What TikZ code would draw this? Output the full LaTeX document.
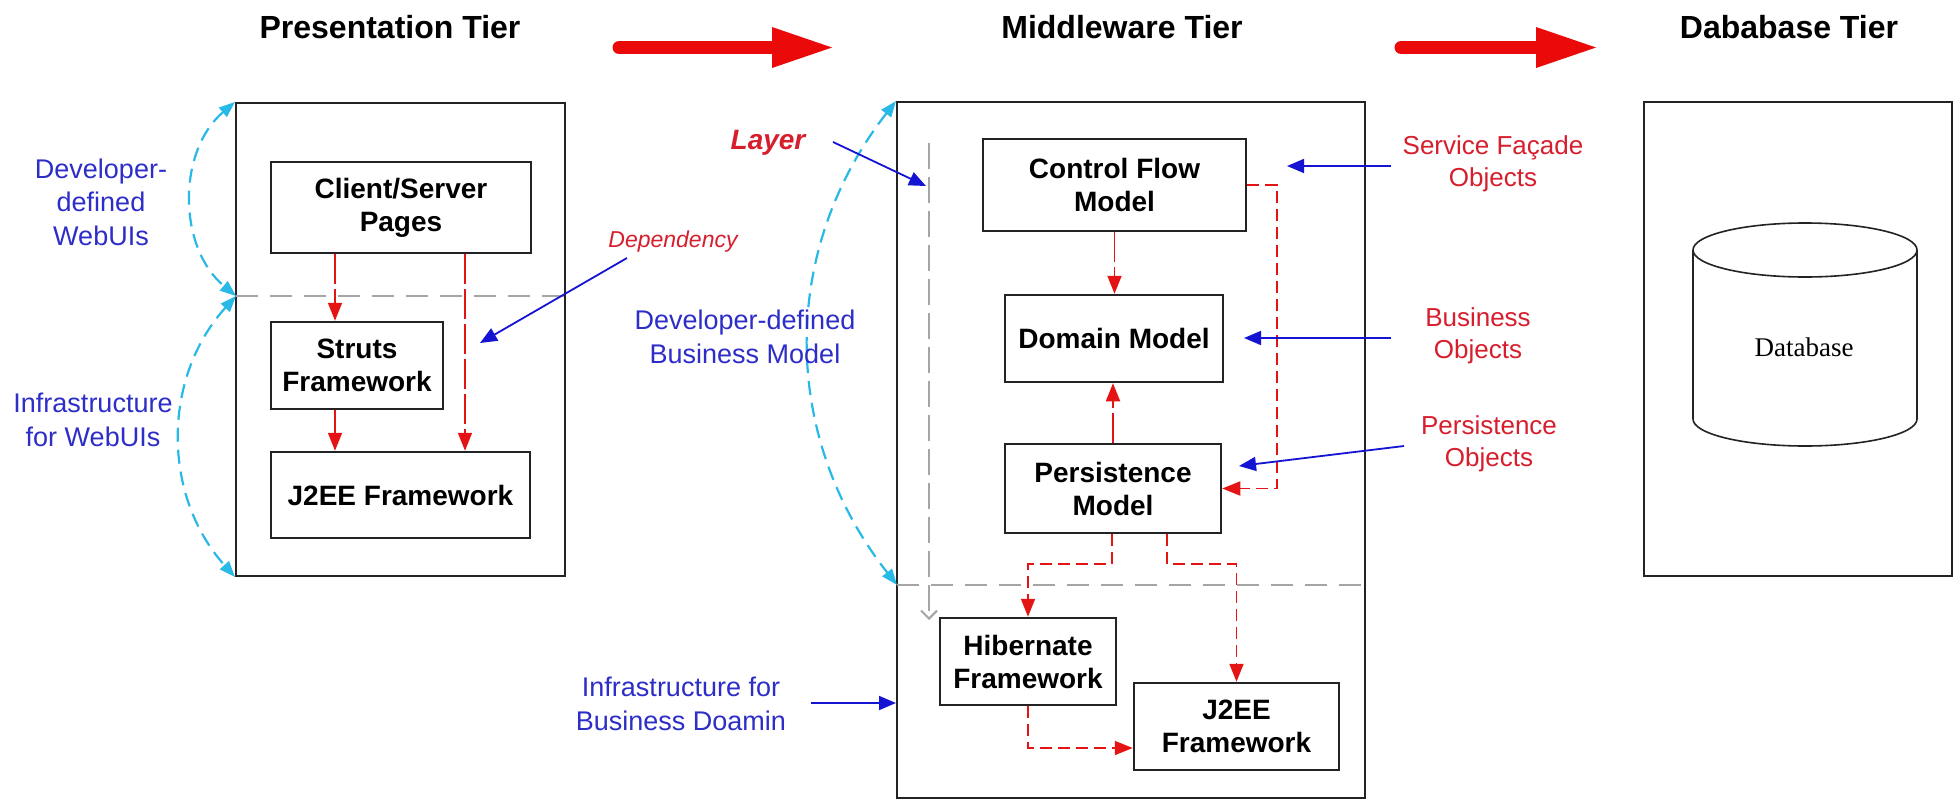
\documentclass[tikz,border=0pt]{standalone}
\usepackage{fontspec}
\setmainfont{Liberation Sans}
\newfontfamily\dbserif{Liberation Serif}
\usetikzlibrary{arrows.meta,calc}
\definecolor{conred}{RGB}{228,20,20}
\definecolor{lblred}{RGB}{215,30,45}
\definecolor{arrblue}{RGB}{20,20,210}
\definecolor{lblblue}{RGB}{45,45,200}
\definecolor{cyanc}{RGB}{40,185,230}
\definecolor{graydash}{RGB}{165,165,165}
\definecolor{boxcol}{RGB}{35,35,35}
\definecolor{bigred}{RGB}{235,10,10}
\begin{document}
\begin{tikzpicture}[x=1pt,y=-1pt,
  box/.style={draw=boxcol, line width=2.5pt, fill=white, inner sep=0pt, align=center,
    font=\fontsize{28}{33}\selectfont\bfseries},
  container/.style={draw=boxcol, line width=2pt, inner sep=0pt},
  title/.style={font=\fontsize{32}{36}\selectfont\bfseries, inner sep=0pt},
  bluelbl/.style={text=lblblue, align=center, font=\fontsize{27}{33.5}\selectfont},
  redlbl/.style={text=lblred, align=center, font=\fontsize{26}{32}\selectfont},
  reddash/.style={draw=conred, line width=1.8pt, dash pattern=on 30pt off 5pt,
    -{Triangle[length=18pt,width=14pt]}},
  redshort/.style={draw=conred, line width=1.8pt, dash pattern=on 12pt off 6pt,
    -{Triangle[length=18pt,width=14pt]}},
  blarrow/.style={draw=arrblue, line width=1.8pt, -{Triangle[length=17pt,width=14pt]}},
  cyarrow/.style={draw=cyanc, line width=2.2pt, dash pattern=on 14pt off 8pt,
    {Triangle[length=16pt,width=12pt]}-{Triangle[length=16pt,width=12pt]}},
  graydashed/.style={draw=graydash, line width=2.6pt, dash pattern=on 22pt off 12pt},
]
\useasboundingbox[fill=white] (0,0) rectangle (1960,801);

% titles
\node[title] (t1) at (390,27) {Presentation Tier};
\node[title] (t2) at (1122,27) {Middleware Tier};
\node[title] (t3) at (1789,27) {Dababase Tier};

% big red arrows
\draw[bigred, line width=13pt, line cap=round] (619,47.5) -- (776,47.5);
\fill[bigred] (772,27) -- (832,47.5) -- (772,68) -- cycle;
\draw[bigred, line width=13pt, line cap=round] (1401,47.5) -- (1540,47.5);
\fill[bigred] (1536,27) -- (1596,47.5) -- (1536,68) -- cycle;

% containers
\node[container, minimum width=329pt, minimum height=473pt] (pres) at (400.5,339.5) {};
\node[container, minimum width=468pt, minimum height=696pt] (mid) at (1131,450) {};
\node[container, minimum width=308pt, minimum height=474pt] (db) at (1798,339) {};

% layer split lines
\coordinate (psplit) at (236,296);
\coordinate (msplit) at (897,585);
\draw[graydashed] (psplit) -- (psplit -| pres.east);
\draw[graydashed] (msplit) -- (msplit -| mid.east);
\coordinate (lyt) at (929,143);
\coordinate (lyb) at (929,620);
\draw[draw=graydash, line width=2pt, dash pattern=on 26pt off 8pt,
  -{Straight Barb[length=8pt,width=16pt]}] (lyt) -- (lyb);

% presentation boxes
\node[box, minimum width=260pt, minimum height=91pt] (cs) at (401,207.5) {Client/Server\\Pages};
\node[box, minimum width=172pt, minimum height=87pt] (struts) at (357,365.5) {Struts\\Framework};
\node[box, minimum width=259pt, minimum height=86pt] (jp) at (400.5,495) {J2EE Framework};

% middleware boxes
\node[box, minimum width=263pt, minimum height=92pt] (cfm) at (1114.5,185) {Control Flow\\Model};
\node[box, minimum width=218pt, minimum height=87pt] (dom) at (1114,338.5) {Domain Model};
\node[box, minimum width=216pt, minimum height=89pt] (pers) at (1113,488.5) {Persistence\\Model};
\node[box, minimum width=176pt, minimum height=87pt] (hib) at (1028,661.5) {Hibernate\\Framework};
\node[box, minimum width=205pt, minimum height=87pt] (jm) at (1236.5,726.5) {J2EE\\Framework};

% database
\draw[boxcol, line width=1.6pt, fill=white] (1805,250) ellipse [x radius=112, y radius=27];
\draw[boxcol, line width=1.6pt] (1693,250) -- (1693,419);
\draw[boxcol, line width=1.6pt] (1917,250) -- (1917,419);
\begin{scope}
  \clip (1680,419) rectangle (1930,460);
  \draw[boxcol, line width=1.6pt] (1805,419) ellipse [x radius=112, y radius=27];
\end{scope}
\node[font=\dbserif\fontsize{27}{30}\selectfont] (dbt) at (1804,347) {Database};

% presentation dependencies
\coordinate (xa) at (335,0);
\coordinate (xb) at (465,0);
\draw[reddash] (cs.south -| xa) -- (struts.north -| xa);
\draw[reddash] (struts.south -| xa) -- (jp.north -| xa);
\draw[reddash] (cs.south -| xb) -- (jp.north -| xb);

% middleware dependencies
\coordinate (xr) at (1277,0);
\draw[reddash] (cfm.south) -- (cfm.south |- dom.north);
\draw[reddash] (pers.north) -- (pers.north |- dom.south);
\draw[redshort] (cfm.east) -- (cfm.east -| xr) -- (pers.east -| xr) -- (pers.east);
\draw[redshort] ([xshift=-1pt]pers.south) -- ++(0,30) -| (hib.north);
\draw[redshort] ([xshift=54pt]pers.south) -- ++(0,30) -| (jm.north);
\draw[redshort] (hib.south) |- ([yshift=-21.5pt]jm.west);

% cyan scope arrows
\draw[cyarrow] (pres.north west) to[bend right=50] (psplit);
\draw[cyarrow] (psplit) to[bend right=42] (pres.south west);
\draw[cyarrow] (mid.north west) to[bend right=38] (msplit);

% labels
\node[bluelbl] (ldw) at (101,202) {Developer-\\defined\\WebUIs};
\node[bluelbl] (liw) at (93,420) {Infrastructure\\for WebUIs};
\node[text=lblred, font=\fontsize{23}{27}\selectfont\itshape] (ldep) at (673,242) {Dependency};
\node[text=lblred, font=\fontsize{28}{32}\selectfont\bfseries\itshape] (llay) at (768,143) {Layer};
\node[bluelbl] (ldbm) at (745,337) {Developer-defined\\Business Model};
\node[bluelbl] (libd) at (681,704) {Infrastructure for\\Business Doamin};
\node[redlbl] (lsfo) at (1493,164) {Service Façade\\Objects};
\node[redlbl] (lbo) at (1478,336) {Business\\Objects};
\node[redlbl] (lpo) at (1489,444) {Persistence\\Objects};

% blue pointer arrows
\coordinate (dep0) at (627,258);
\coordinate (dep1) at (480,343);
\draw[blarrow] (dep0) -- (dep1);
\coordinate (lay0) at (833,142);
\coordinate (lay1) at (926,186);
\draw[blarrow] (lay0) -- (lay1);
\coordinate (sf0) at (1391,166);
\coordinate (sf1) at (1287,166);
\draw[blarrow] (sf0) -- (sf1);
\coordinate (bo0) at (1391,338);
\coordinate (bo1) at (1244,338);
\draw[blarrow] (bo0) -- (bo1);
\coordinate (po0) at (1404,446);
\coordinate (po1) at (1239,466);
\draw[blarrow] (po0) -- (po1);
\coordinate (ib0) at (811,703);
\draw[blarrow] (ib0) -- (ib0 -| mid.west);
\end{tikzpicture}
\end{document}
